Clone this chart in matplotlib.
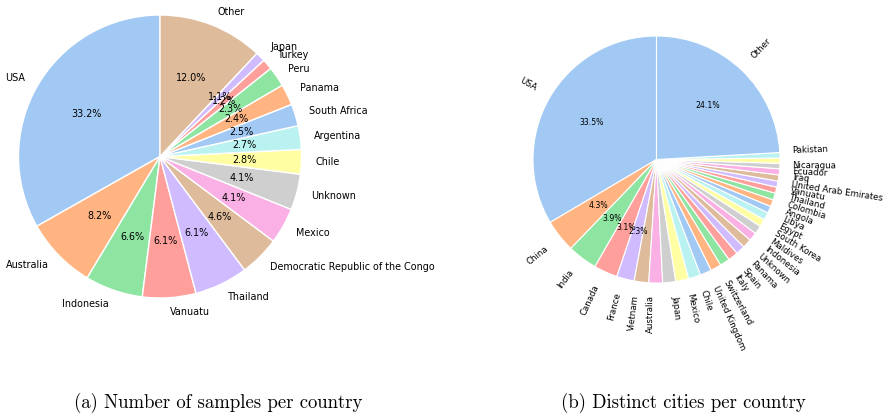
import matplotlib
matplotlib.use("Agg")
import matplotlib.pyplot as plt
import seaborn as sns

# (a) number of samples per country, in percent
countries_a = ["USA", "Australia", "Indonesia", "Vanuatu", "Thailand",
               "Democratic Republic of the Congo", "Mexico", "Unknown", "Chile",
               "Argentina", "South Africa", "Panama", "Peru", "Turkey", "Japan",
               "Other"]
samples_a = [33.2, 8.2, 6.6, 6.1, 6.1, 4.6, 4.1, 4.1, 2.8, 2.7, 2.5, 2.4, 2.3,
             1.2, 1.1, 12.0]

# (b) distinct cities per country, in percent
countries_b = ["USA", "China", "India", "Canada", "France", "Vietnam",
               "Australia", "Japan", "Mexico", "Chile", "United Kingdom",
               "Switzerland", "Italy", "Spain", "Panama", "Unknown", "Indonesia",
               "Maldives", "South Korea", "Egypt", "Libya", "Angola", "Colombia",
               "Thailand", "Vanuatu", "United Arab Emirates", "Iraq", "Ecuador",
               "Nicaragua", "Pakistan", "Other"]
cities_b = [33.5, 4.3, 3.9, 3.1, 2.3, 1.9, 1.8, 1.7, 1.7, 1.6, 1.5, 1.4, 1.3,
            1.3, 1.2, 1.2, 1.1, 1.1, 1.0, 1.0, 0.9, 0.9, 0.9, 0.8, 0.8, 0.8,
            0.8, 0.7, 0.7, 0.7, 24.1]

captions = ["(a) Number of samples per country", "(b) Distinct cities per country"]

colors = sns.color_palette("pastel")

W, H = 893, 419
fig = plt.figure(figsize=(W / 100, H / 100), dpi=100)


def pie_axes(cx, cy, r):
    # place an axes so that a unit pie has centre (cx, cy) and radius r in pixels
    return fig.add_axes([(cx - r) / W, (H - cy - r) / H, 2 * r / W, 2 * r / H])


ax1 = pie_axes(160, 156.5, 141.5)
ax1.pie(samples_a, labels=countries_a, colors=colors, startangle=90,
        autopct="%1.1f%%", wedgeprops=dict(edgecolor="w", linewidth=1),
        textprops=dict(fontsize=6.9))
ax1.set_xlim(-1, 1)
ax1.set_ylim(-1, 1)

ax2 = pie_axes(656.5, 159.5, 123.5)
_, texts, autotexts = ax2.pie(
    cities_b, labels=countries_b, colors=colors, startangle=90,
    rotatelabels=True,
    autopct=lambda p: f"{p:.1f}%" if p > 2 else "",
    wedgeprops=dict(edgecolor="w", linewidth=0.8),
    textprops=dict(fontsize=6.2))
for t in autotexts:
    t.set_fontsize(5.6)
ax2.set_xlim(-1, 1)
ax2.set_ylim(-1, 1)

fig.text(218 / W, 1 - 403 / H, captions[0], family="cmr10", fontsize=13.5,
         ha="center", va="center")
fig.text(683 / W, 1 - 403 / H, captions[1], family="cmr10", fontsize=13.5,
         ha="center", va="center")

fig.savefig("out.png", dpi=100)
